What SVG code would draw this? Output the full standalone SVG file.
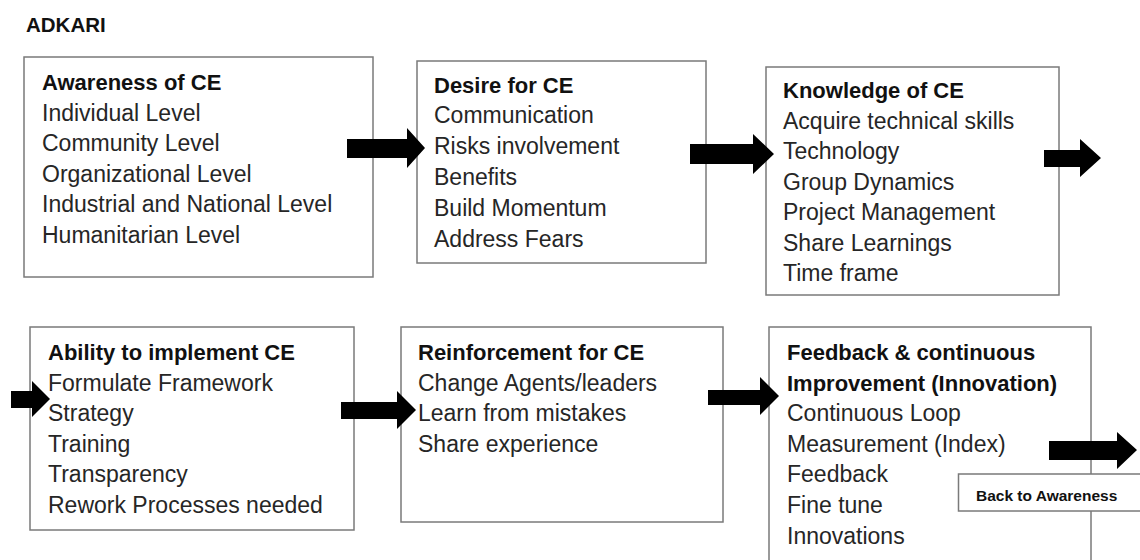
<svg xmlns="http://www.w3.org/2000/svg" width="1140" height="560" viewBox="0 0 1140 560">
<style>
.box{fill:#fff;stroke:#7a7a7a;stroke-width:1.5}
.h{font-family:"Liberation Sans",Arial,sans-serif;font-weight:bold;font-size:22px;fill:#111}
.t{font-family:"Liberation Sans",Arial,sans-serif;font-size:23px;fill:#262626}
.arrow{fill:#000}
</style>
<rect width="1140" height="560" fill="#fff"/>
<text x="26" y="32" style="font-family:'Liberation Sans',Arial,sans-serif;font-weight:bold;font-size:20.5px;fill:#111">ADKARI</text>

<g id="awareness">
<rect class="box" x="24" y="57" width="349" height="220"/>
<text class="h" x="42" y="90">Awareness of CE</text>
<text class="t" x="42" y="120.6">Individual Level</text>
<text class="t" x="42" y="151.2">Community Level</text>
<text class="t" x="42" y="181.8">Organizational Level</text>
<text class="t" x="42" y="212.4">Industrial and National Level</text>
<text class="t" x="42" y="243">Humanitarian Level</text>
</g>

<g id="desire">
<rect class="box" x="417" y="61" width="289" height="202"/>
<text class="h" x="434" y="92.5">Desire for CE</text>
<text class="t" x="434" y="123.3">Communication</text>
<text class="t" x="434" y="154.1">Risks involvement</text>
<text class="t" x="434" y="184.9">Benefits</text>
<text class="t" x="434" y="215.7">Build Momentum</text>
<text class="t" x="434" y="246.5">Address Fears</text>
</g>

<g id="knowledge">
<rect class="box" x="766" y="67" width="293" height="228"/>
<text class="h" x="783" y="98.3">Knowledge of CE</text>
<text class="t" x="783" y="128.8">Acquire technical skills</text>
<text class="t" x="783" y="159.3">Technology</text>
<text class="t" x="783" y="189.8">Group Dynamics</text>
<text class="t" x="783" y="220.3">Project Management</text>
<text class="t" x="783" y="250.8">Share Learnings</text>
<text class="t" x="783" y="281.3">Time frame</text>
</g>

<g id="ability">
<rect class="box" x="30" y="327" width="324" height="203"/>
<text class="h" x="48" y="360">Ability to implement CE</text>
<text class="t" x="48" y="390.6">Formulate Framework</text>
<text class="t" x="48" y="421.2">Strategy</text>
<text class="t" x="48" y="451.8">Training</text>
<text class="t" x="48" y="482.4">Transparency</text>
<text class="t" x="48" y="513">Rework Processes needed</text>
</g>

<g id="reinforcement">
<rect class="box" x="401" y="327" width="322" height="195"/>
<text class="h" x="418" y="360">Reinforcement for CE</text>
<text class="t" x="418" y="390.6">Change Agents/leaders</text>
<text class="t" x="418" y="421.2">Learn from mistakes</text>
<text class="t" x="418" y="451.8">Share experience</text>
</g>

<g id="feedback">
<rect class="box" x="769" y="327" width="322" height="250"/>
<text class="h" x="787" y="360">Feedback &amp; continuous</text>
<text class="h" x="787" y="390.6">Improvement (Innovation)</text>
<text class="t" x="787" y="421.2">Continuous Loop</text>
<text class="t" x="787" y="451.8">Measurement (Index)</text>
<text class="t" x="787" y="482.4">Feedback</text>
<text class="t" x="787" y="513">Fine tune</text>
<text class="t" x="787" y="543.6">Innovations</text>
</g>

<g id="connectors">
<polygon class="arrow" points="347,139 407,139 407,128 425,148 407,168 407,158 347,158"/>
<polygon class="arrow" points="690,144 753,144 753,134 774,154 753,174 753,164 690,164"/>
<polygon class="arrow" points="1044,150 1080,150 1080,139 1101,158 1080,177 1080,167 1044,167"/>
<polygon class="arrow" points="11,391 32,391 32,381 50,399 32,417 32,408 11,408"/>
<polygon class="arrow" points="341,402 397,402 397,391 416,410 397,429 397,419 341,419"/>
<polygon class="arrow" points="708,390 760,390 760,377 779,396 760,415 760,405 708,405"/>
<polygon class="arrow" points="1049,441 1117,441 1117,432 1137,450 1117,469 1117,460 1049,460"/>
</g>

<g id="back-to-awareness">
<rect class="box" x="958.5" y="474" width="200" height="37"/>
<text x="976" y="500.5" style="font-family:'Liberation Sans',Arial,sans-serif;font-weight:bold;font-size:15.5px;fill:#111">Back to Awareness</text>
</g>
</svg>
